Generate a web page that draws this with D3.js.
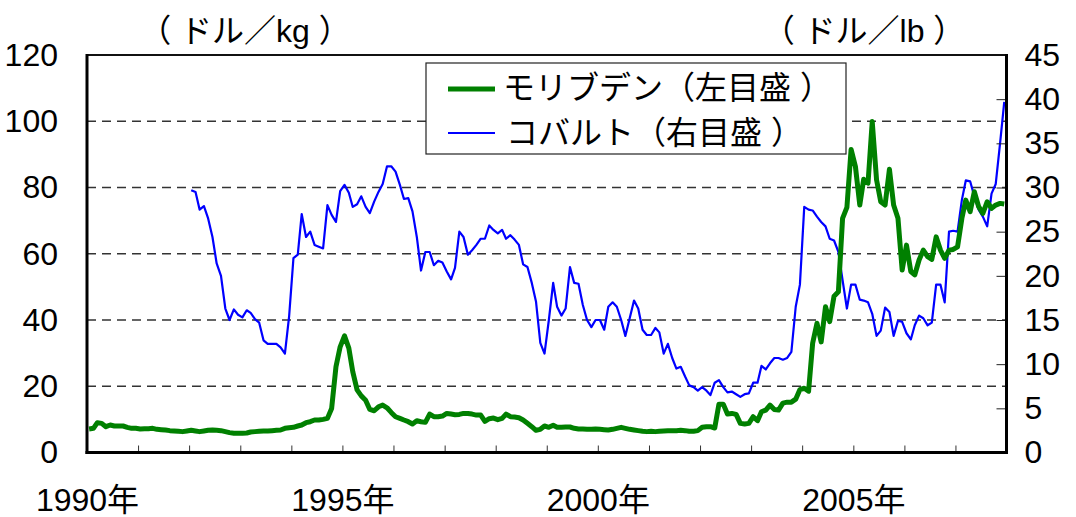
<!DOCTYPE html>
<html>
<head>
<meta charset="utf-8">
<script src="https://cdn.jsdelivr.net/npm/d3@7"></script>
<style>
  body { margin: 0; background: #fff; }
  text { font-family: "Liberation Sans", "Noto Sans CJK JP", sans-serif; }
</style>
</head>
<body>
<div id="chart-area"></div>
<script>
// monthly prices, Jan 1990 - Dec 2007
var molyStart = 0;      // month index of first value (0 = Jan 1990)
var moly = [
  7.1, 7.3, 9.0, 8.8, 7.8, 8.3, 8.0, 8.0, 8.0, 7.6, 7.3, 7.3,
  7.1, 7.2, 7.2, 7.3, 7.0, 6.9, 6.8, 6.6, 6.5, 6.4, 6.3, 6.5,
  6.7, 6.5, 6.3, 6.5, 6.7, 6.8, 6.7, 6.6, 6.3, 6.0, 5.8, 5.8,
  5.8, 5.9, 6.2, 6.3, 6.4, 6.5, 6.5, 6.6, 6.7, 6.8, 7.3, 7.5,
  7.6, 8.0, 8.3, 9.0, 9.3, 9.8, 9.8, 10.0, 10.3, 13.3, 25.9, 31.9,
  35.2, 31.5, 24.4, 18.9, 17.1, 15.8, 13.0, 12.6, 13.8, 14.3, 13.5, 12.1,
  10.8, 10.3, 9.8, 9.3, 8.6, 9.6, 9.3, 9.1, 11.6, 10.8, 10.8, 11.0,
  11.8, 11.6, 11.4, 11.5, 11.8, 11.8, 11.6, 11.3, 11.3, 9.4, 10.2, 10.4,
  9.9, 10.3, 11.6, 10.8, 10.7, 10.5, 9.8, 8.8, 7.8, 6.7, 7.0, 8.0,
  7.6, 8.2, 7.6, 7.6, 7.7, 7.7, 7.3, 7.1, 7.1, 7.0, 7.0, 7.1,
  7.0, 6.9, 6.8, 7.0, 7.3, 7.6, 7.3, 7.0, 6.8, 6.6, 6.4, 6.3,
  6.4, 6.3, 6.4, 6.5, 6.6, 6.6, 6.6, 6.7, 6.6, 6.4, 6.4, 6.6,
  7.6, 7.8, 7.8, 7.4, 14.6, 14.6, 11.6, 11.8, 11.5, 8.8, 8.6, 8.8,
  10.8, 9.6, 12.3, 12.8, 14.3, 13.0, 12.8, 14.9, 15.2, 15.2, 16.1, 19.0,
  19.4, 18.5, 33.0, 39.0, 33.4, 44.0, 39.5, 47.2, 48.5, 70.7, 74.0, 91.5,
  86.3, 74.7, 82.5, 81.3, 99.9, 82.3, 75.7, 74.7, 85.5, 74.7, 70.7, 55.1,
  62.6, 54.6, 53.6, 58.1, 61.1, 59.1, 58.3, 65.1, 61.1, 58.6, 61.1, 61.3,
  62.1, 70.7, 76.2, 72.7, 78.7, 74.2, 72.2, 75.7, 73.7, 74.7, 75.2, 75.0
];

var cobaltStart = 24;   // Jan 1992
var cobalt = [
  29.7, 29.5, 27.5, 27.9, 26.5, 24.4, 21.4, 20.0, 16.3, 15.0, 16.2, 15.6,
  15.3, 16.1, 15.8, 15.1, 14.7, 12.7, 12.3, 12.3, 12.3, 11.9, 11.2, 15.4,
  22.0, 22.4, 27.0, 24.4, 25.0, 23.5, 23.3, 23.1, 28.0, 26.9, 26.1, 29.6,
  30.3, 29.4, 27.8, 28.1, 29.0, 27.8, 27.1, 28.4, 29.5, 30.4, 32.4, 32.4,
  31.8, 30.3, 28.7, 28.8, 27.3, 24.4, 20.6, 22.7, 22.7, 21.2, 21.7, 21.5,
  20.5, 19.6, 20.9, 25.0, 24.4, 22.4, 22.9, 23.5, 24.2, 24.2, 25.7, 25.2,
  24.8, 25.2, 24.2, 24.6, 24.1, 23.5, 21.3, 21.0, 19.2, 17.1, 12.4, 11.2,
  15.0, 19.2, 16.5, 15.5, 16.3, 21.0, 19.2, 19.1, 16.7, 15.0, 14.2, 15.0,
  15.0, 13.9, 16.5, 17.0, 16.5, 15.0, 13.2, 15.2, 17.2, 16.3, 13.9, 13.3,
  13.3, 14.1, 13.6, 11.2, 12.3, 10.7, 9.5, 9.7, 8.6, 7.6, 7.4, 7.0,
  7.4, 7.0, 6.5, 7.9, 8.2, 7.4, 6.8, 6.9, 6.6, 6.3, 6.6, 6.7,
  7.9, 7.9, 9.8, 9.4, 10.1, 10.7, 10.7, 10.5, 10.7, 11.4, 16.5, 19.0,
  27.8, 27.5, 27.4, 26.7, 26.1, 25.6, 24.2, 24.0, 22.7, 19.5, 16.3, 19.0,
  19.0, 17.3, 17.2, 17.0, 15.7, 13.2, 13.8, 16.4, 15.9, 13.2, 14.9, 14.8,
  13.5, 12.8, 14.4, 15.5, 15.2, 14.4, 14.7, 19.0, 19.0, 17.0, 25.0, 25.1,
  25.0, 28.6, 30.8, 30.7, 29.0, 27.5, 26.7, 25.6, 29.3, 30.4, 35.0, 39.7
];

var leftTicks  = [0, 20, 40, 60, 80, 100, 120];
var rightTicks = [0, 5, 10, 15, 20, 25, 30, 35, 40, 45];
var labelYears = [1990, 1995, 2000, 2005];
var leftUnit  = "（ ドル／kg ）";
var rightUnit = "（ ドル／lb ）";
var molyName   = "モリブデン（左目盛 ）";
var cobaltName = "コバルト（右目盛 ）";

var svgWidth = 1076, svgHeight = 517;
var margin = { top: 55, left: 87, bottom: 64.5, right: 69.5 };
var width  = svgWidth - margin.left - margin.right;
var height = svgHeight - margin.top - margin.bottom;

var svg = d3.select("#chart-area")
            .append("svg")
            .attr("width", svgWidth)
            .attr("height", svgHeight)
            .attr("xml:space", "preserve")
            .style("display", "block");

svg.append("rect").attr("width", svgWidth).attr("height", svgHeight).attr("fill", "#fff");

var g = svg.append("g")
           .attr("transform", "translate(" + margin.left + "," + margin.top + ")");

var x = d3.scaleTime()
          .domain([new Date(1990, 0, 1), new Date(2008, 0, 1)])
          .range([0, width]);
var yL = d3.scaleLinear().domain([0, 120]).range([height, 0]);
var yR = d3.scaleLinear().domain([0, 45]).range([height, 0]);

var monthDate = (m) => new Date(1990, m, 16);

// dashed grid
g.selectAll(".grid")
 .data(leftTicks.filter((d) => d > 0 && d < 120))
 .enter().append("line")
 .attr("x1", 0).attr("x2", width)
 .attr("y1", (d) => yL(d)).attr("y2", (d) => yL(d))
 .attr("stroke", "#333")
 .attr("stroke-width", 1.3)
 .attr("stroke-dasharray", "9,6");

// lines
var molyLine = d3.line()
                 .x((d, i) => x(monthDate(molyStart + i)))
                 .y((d) => yL(d));
var cobaltLine = d3.line()
                   .x((d, i) => x(monthDate(cobaltStart + i)))
                   .y((d) => yR(d));

g.append("path").datum(cobalt)
 .attr("d", cobaltLine)
 .attr("fill", "none")
 .attr("stroke", "#0000ff")
 .attr("stroke-width", 2.2)
 .attr("stroke-linejoin", "round");

g.append("path").datum(moly)
 .attr("d", molyLine)
 .attr("fill", "none")
 .attr("stroke", "#008000")
 .attr("stroke-width", 5)
 .attr("stroke-linejoin", "round");

// axes
var fontSize = "32px";

var leftAxis = g.append("g")
  .call(d3.axisLeft(yL).tickValues(leftTicks).tickSize(0).tickPadding(29));
leftAxis.select(".domain").remove();

var rightAxis = g.append("g")
  .attr("transform", "translate(" + width + ",0)")
  .call(d3.axisRight(yR).tickValues(rightTicks).tickSizeInner(-10).tickSizeOuter(0).tickPadding(18));
rightAxis.select(".domain").remove();
rightAxis.selectAll("line").attr("stroke", "#222");

var xTickAxis = g.append("g")
  .attr("transform", "translate(0," + height + ")")
  .call(d3.axisBottom(x).ticks(d3.timeYear.every(1)).tickSizeInner(-7).tickSizeOuter(0).tickFormat(""));
xTickAxis.select(".domain").remove();
xTickAxis.selectAll("line").attr("stroke", "#333");

var xLabelAxis = g.append("g")
  .attr("transform", "translate(0," + height + ")")
  .call(d3.axisBottom(x)
          .tickValues(labelYears.map((yr) => new Date(yr, 0, 1)))
          .tickSize(0).tickPadding(36)
          .tickFormat((d) => d.getFullYear() + "年"));
xLabelAxis.select(".domain").remove();

g.selectAll(".tick text")
 .attr("font-family", "'Liberation Sans', 'Noto Sans CJK JP', sans-serif")
 .attr("font-size", fontSize)
 .attr("fill", "#000");

// frame
g.append("line").attr("x1", 0).attr("x2", width).attr("y1", 0).attr("y2", 0)
 .attr("stroke", "#111").attr("stroke-width", 2);
g.append("line").attr("x1", 0).attr("x2", 0).attr("y1", -1).attr("y2", height + 1.5)
 .attr("stroke", "#000").attr("stroke-width", 3);
g.append("line").attr("x1", width).attr("x2", width).attr("y1", -1).attr("y2", height + 1.5)
 .attr("stroke", "#000").attr("stroke-width", 3);
g.append("line").attr("x1", -1.5).attr("x2", width + 1.5).attr("y1", height).attr("y2", height)
 .attr("stroke", "#000").attr("stroke-width", 3);

// unit labels
svg.append("text")
   .attr("x", 245).attr("y", 42)
   .attr("text-anchor", "middle")
   .attr("font-size", fontSize)
   .text(leftUnit);
svg.append("text")
   .attr("x", 864).attr("y", 42)
   .attr("text-anchor", "middle")
   .attr("font-size", fontSize)
   .text(rightUnit);

// legend
var legend = svg.append("g").attr("transform", "translate(426,63)");
legend.append("rect")
      .attr("width", 420).attr("height", 91)
      .attr("fill", "#fff")
      .attr("stroke", "#222").attr("stroke-width", 1.2);
legend.append("line")
      .attr("x1", 22).attr("x2", 69).attr("y1", 26).attr("y2", 26)
      .attr("stroke", "#008000").attr("stroke-width", 5);
legend.append("line")
      .attr("x1", 22).attr("x2", 69).attr("y1", 70).attr("y2", 70)
      .attr("stroke", "#0000ff").attr("stroke-width", 2.2);
legend.append("text")
      .attr("x", 77).attr("y", 36)
      .attr("font-size", fontSize)
      .text(molyName);
legend.append("text")
      .attr("x", 80).attr("y", 81)
      .attr("font-size", fontSize)
      .text(cobaltName);
</script>
</body>
</html>
